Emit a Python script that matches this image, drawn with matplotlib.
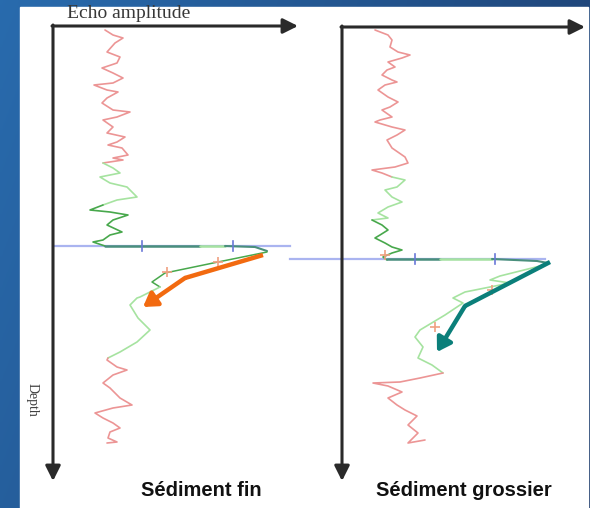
import matplotlib
matplotlib.use("Agg")
import matplotlib.pyplot as plt
import numpy as np
from matplotlib.patches import Rectangle

# figure size in pixels (dpi 100)
W, H = 590, 508

# ---- Trace data (amplitude, depth), in pixel-like units
# ---- measured from each panel's origin (top-left corner of the axes)

# Left panel: fine sediment
fin_red_top_amp = [52, 60, 70, 62, 54, 67, 64, 49, 60, 70, 60, 41, 54, 65, 54, 49,
                   60, 77, 64, 50, 60, 54, 72, 64, 55, 69, 75, 60, 70, 50]
fin_red_top_depth = [4, 9, 12, 17, 26, 31, 37, 42, 47, 52, 57, 59, 64, 66, 72, 77,
                     84, 86, 91, 94, 101, 107, 111, 116, 119, 122, 129, 132, 134, 137]
fin_green_top_amp = [50, 60, 67, 47, 57, 74, 84, 64, 50]
fin_green_top_depth = [137, 142, 147, 151, 157, 161, 171, 174, 179]
fin_dark_top_amp = [50, 37, 57, 75, 60, 54, 69, 57, 50, 40, 52]
fin_dark_top_depth = [179, 184, 186, 189, 194, 199, 206, 209, 214, 216, 220]
fin_echo_amp = [52, 147, 172, 202, 214]
fin_echo_depth = [220, 220, 220, 221, 225]
fin_return_amp = [214, 165, 112, 99, 107, 87, 84, 77, 85, 97, 84, 67, 55]
fin_return_depth = [226, 236, 247, 256, 261, 271, 272, 279, 292, 304, 316, 326, 332]
fin_red_low_amp = [55, 54, 64, 74, 60, 50, 57, 67, 79, 60, 42, 50, 60, 67, 57, 55, 64, 54]
fin_red_low_depth = [332, 334, 341, 344, 349, 357, 362, 372, 379, 382, 387, 392, 397,
                     402, 406, 412, 416, 417]
fin_cross_amp = [165, 114]
fin_cross_depth = [236, 246]
fin_tick_amp = [89, 180]
fin_bottom_depth = 220
fin_arrow_amp = [210, 132, 90]
fin_arrow_depth = [229, 252, 281]

# Right panel: coarse sediment
gros_red_top_amp = [33, 46, 50, 48, 56, 68, 60, 46, 53, 45, 40, 50, 55, 43, 36, 46,
                    56, 48, 40, 50, 38, 33, 50, 63, 55, 45, 50, 63, 66, 53, 30, 40, 50]
gros_red_top_depth = [3, 8, 13, 20, 25, 28, 31, 35, 40, 43, 48, 53, 55, 58, 63, 70,
                      75, 80, 83, 90, 93, 95, 100, 103, 108, 113, 121, 130, 136, 140,
                      143, 146, 150]
gros_green_top_amp = [50, 63, 55, 43, 50, 60, 46, 36, 46, 30]
gros_green_top_depth = [150, 153, 160, 163, 170, 175, 180, 186, 191, 193]
gros_dark_top_amp = [30, 40, 46, 38, 33, 43, 50, 60, 50, 41, 45]
gros_dark_top_depth = [193, 198, 203, 208, 211, 216, 220, 223, 226, 230, 233]
gros_echo_amp = [45, 98, 150, 195, 206]
gros_echo_depth = [232, 232, 232, 234, 236]
gros_return_amp = [206, 158, 148, 168, 123, 111, 121, 103, 78, 73, 81, 76, 90, 101]
gros_return_depth = [237, 249, 253, 256, 265, 271, 276, 288, 303, 310, 320, 331, 338, 346]
gros_red_low_amp = [101, 78, 58, 31, 46, 60, 46, 55, 63, 75, 66, 76, 66, 83]
gros_red_low_depth = [346, 351, 355, 356, 359, 365, 371, 378, 383, 389, 398, 406, 416, 413]
gros_cross_amp = [93, 150, 43]
gros_cross_depth = [300, 263, 228]
gros_tick_amp = [73, 153]
gros_bottom_depth = 232
gros_arrow_amp = [208, 123, 95]
gros_arrow_depth = [235, 279, 325]

RED = "#ec9595"
LGREEN = "#a6e3a0"
DGREEN = "#48a84c"
TEAL_LINE = "#4a8f7c"
BLUE_LINE = "#aab4f0"

fig = plt.figure(figsize=(W / 100, H / 100), dpi=100)

# slide background: blue gradient
bg = fig.add_axes([0, 0, 1, 1])
gx = np.linspace(0, 1, 200)
gy = np.linspace(0, 1, 200)
X, Y = np.meshgrid(gx, gy)
c0 = np.array([0.16, 0.42, 0.68])
c1 = np.array([0.11, 0.23, 0.42])
t = np.clip(0.75 * X + 0.25 * Y, 0, 1)[..., None]
bg.imshow(c0 * (1 - t) + c1 * t, extent=[0, 1, 0, 1], aspect="auto", origin="upper")
bg.add_patch(Rectangle((20 / W, 0), (588 - 20) / W, (H - 7) / H,
                       transform=bg.transAxes, color="white", zorder=2))
bg.set_axis_off()


def panel(x0, y0, w, h):
    ax = fig.add_axes([x0 / W, 1 - (y0 + h) / H, w / W, h / H])
    ax.set_xlim(0, w)
    ax.set_ylim(h, 0)
    ax.set_axis_off()
    ax.patch.set_alpha(0)
    # amplitude / depth axes with arrow heads
    kw = dict(arrowstyle="-|>,head_length=0.9,head_width=0.45", color="#2a2a2a",
              lw=2.2, shrinkA=0, shrinkB=0)
    ax.annotate("", xy=(w, 0), xytext=(-1, 0), arrowprops=kw, annotation_clip=False)
    ax.annotate("", xy=(0, h), xytext=(0, -1), arrowprops=kw, annotation_clip=False)
    return ax


def trace(ax, segs, cross_a, cross_d, tick_a, bottom, line_from, line_to):
    ax.plot([line_from, line_to], [bottom, bottom], color=BLUE_LINE, lw=1.6,
            clip_on=False, zorder=1)
    for a, d, c, lw in segs:
        ax.plot(a, d, color=c, lw=lw, solid_joinstyle="round", solid_capstyle="round",
                clip_on=False, zorder=2)
    for ta in tick_a:
        ax.plot([ta, ta], [bottom - 5, bottom + 5], color="#6a78d8", lw=1.2, zorder=3)
    ax.plot(cross_a, cross_d, "+", color="#f0a080", ms=7, mew=1.2, zorder=3)


def bent_arrow(ax, amp, depth, color):
    ax.plot(amp[:2], depth[:2], color=color, lw=3.2, solid_capstyle="butt", zorder=5)
    ax.annotate("", xy=(amp[2], depth[2]), xytext=(amp[1], depth[1]),
                arrowprops=dict(arrowstyle="-|>,head_length=0.8,head_width=0.5",
                                color=color, lw=3.2, shrinkA=0, shrinkB=0), zorder=5)


# ---- left panel
axl = panel(53, 26, 245, 455)
trace(axl,
      [(fin_red_top_amp, fin_red_top_depth, RED, 1.2),
       (fin_green_top_amp, fin_green_top_depth, LGREEN, 1.2),
       (fin_dark_top_amp, fin_dark_top_depth, DGREEN, 1.2),
       (fin_echo_amp[:2], fin_echo_depth[:2], TEAL_LINE, 1.8),
       (fin_echo_amp[1:3], fin_echo_depth[1:3], LGREEN, 1.8),
       (fin_echo_amp[2:], fin_echo_depth[2:], TEAL_LINE, 1.5),
       (fin_return_amp[:5], fin_return_depth[:5], DGREEN, 1.1),
       (fin_return_amp[4:], fin_return_depth[4:], LGREEN, 1.2),
       (fin_red_low_amp, fin_red_low_depth, RED, 1.2)],
      fin_cross_amp, fin_cross_depth, fin_tick_amp, fin_bottom_depth, 2, 237)
bent_arrow(axl, fin_arrow_amp, fin_arrow_depth, "#f26a10")
axl.text(14, -12, "Echo amplitude", family="Liberation Serif", fontsize=14,
         color="#383838", ha="left", va="center")
axl.text(-21, 374, "Depth", family="Liberation Serif", fontsize=10, color="#404040",
         rotation=270, ha="center", va="center")
axl.text(148, 465, "Sédiment fin", family="Liberation Sans", fontweight="bold",
         fontsize=14.5, color="#111111", ha="center", va="center")

# ---- right panel
axr = panel(342, 27, 243, 454)
trace(axr,
      [(gros_red_top_amp, gros_red_top_depth, RED, 1.2),
       (gros_green_top_amp, gros_green_top_depth, LGREEN, 1.2),
       (gros_dark_top_amp, gros_dark_top_depth, DGREEN, 1.2),
       (gros_echo_amp[:2], gros_echo_depth[:2], TEAL_LINE, 1.8),
       (gros_echo_amp[1:3], gros_echo_depth[1:3], LGREEN, 1.8),
       (gros_echo_amp[2:], gros_echo_depth[2:], TEAL_LINE, 1.5),
       (gros_return_amp, gros_return_depth, LGREEN, 1.2),
       (gros_red_low_amp, gros_red_low_depth, RED, 1.2)],
      gros_cross_amp, gros_cross_depth, gros_tick_amp, gros_bottom_depth, -52, 203)
bent_arrow(axr, gros_arrow_amp, gros_arrow_depth, "#0b7f7a")
axr.text(122, 464, "Sédiment grossier", family="Liberation Sans", fontweight="bold",
         fontsize=14.5, color="#111111", ha="center", va="center")

fig.savefig("out.png", dpi=100)
